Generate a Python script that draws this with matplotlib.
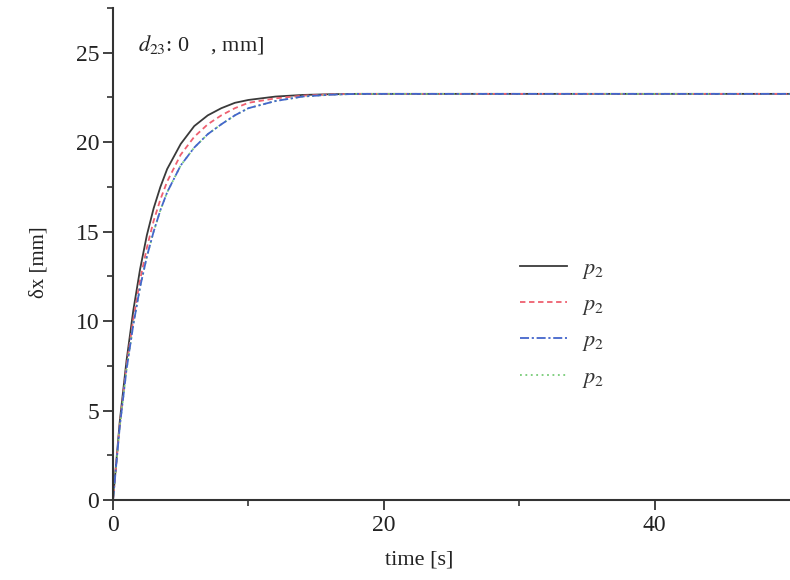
import matplotlib
matplotlib.use("Agg")
import matplotlib.pyplot as plt

# Data
t = [0, 0.5, 1, 1.5, 2, 2.5, 3, 3.5, 4, 5, 6, 7, 8, 9, 10, 12, 14, 16, 18, 20, 25, 30, 40, 50]
dx_black = [0, 4.4, 7.8, 10.6, 12.9, 14.8, 16.3, 17.5, 18.5, 19.9, 20.9, 21.5, 21.9, 22.2, 22.36,
            22.55, 22.64, 22.68, 22.7, 22.7, 22.7, 22.7, 22.7, 22.7]
dx_red = [0, 4.2, 7.5, 10.1, 12.3, 14.1, 15.6, 16.8, 17.8, 19.3, 20.3, 21.0, 21.5, 21.9, 22.2,
          22.45, 22.6, 22.67, 22.7, 22.7, 22.7, 22.7, 22.7, 22.7]
dx_blue = [0, 4.1, 7.3, 9.8, 11.9, 13.6, 15.0, 16.2, 17.2, 18.7, 19.7, 20.45, 21.0, 21.5, 21.9,
           22.3, 22.55, 22.65, 22.7, 22.7, 22.7, 22.7, 22.7, 22.7]
dx_green = [0, 4.1, 7.3, 9.8, 11.9, 13.6, 15.0, 16.2, 17.2, 18.7, 19.7, 20.45, 21.0, 21.5, 21.9,
            22.3, 22.55, 22.65, 22.7, 22.7, 22.7, 22.7, 22.7, 22.7]
labels = [r"$p_2$", r"$p_2$", r"$p_2$", r"$p_2$"]
xticks = [0, 20, 40]
yticks = [0, 5, 10, 15, 20, 25]

plt.rcParams['font.family'] = ['Liberation Serif', 'DejaVu Serif']
plt.rcParams['mathtext.fontset'] = 'stix'

fig = plt.figure(figsize=(7.9, 5.8), dpi=100)
ax = fig.add_axes([113/790, 80/580, 677/790, 492/580])

ax.plot(t, dx_black, color='#3a3a3a', lw=1.3, ls='-', label=labels[0])
ax.plot(t, dx_red, color='#ee6070', lw=1.3, ls=(0, (3, 2)), label=labels[1])
ax.plot(t, dx_green, color='#77cc77', lw=1.3, ls=(0, (1, 2)), label=labels[3])
ax.plot(t, dx_blue, color='#4466cc', lw=1.3, ls=(0, (5, 1.5, 1.2, 1.5)), label=labels[2])

ax.set_xlim(0, 50)
ax.set_ylim(0, 27.5)
ax.set_xticks(xticks)
ax.set_yticks(yticks)
ax.set_xticks([10, 30], minor=True)
ax.set_yticks([2.5, 7.5, 12.5, 17.5, 22.5, 27.5], minor=True)

for s in ['top', 'right']:
    ax.spines[s].set_visible(False)
for s in ['left', 'bottom']:
    ax.spines[s].set_linewidth(1.5)
    ax.spines[s].set_color('#333333')
    ax.spines[s].set_clip_on(False)

ax.tick_params(axis='both', which='major', direction='out', length=7, width=1.3,
               colors='#333333', labelsize=17, labelcolor='#222222')
ax.tick_params(axis='both', which='minor', direction='out', length=4, width=1.2, colors='#333333')
ax.tick_params(axis='x', pad=4)
ax.tick_params(axis='y', pad=3)

ax.set_xlabel("time [s]", fontsize=16, color='#222222')
ax.xaxis.set_label_coords((419 - 113) / 677, -50 / 492)
ax.set_ylabel("δx [mm]", fontsize=15, color='#222222')
ax.yaxis.set_label_coords(-65 / 677, (500 - 262) / 492)

ax.text((138 - 113) / 677, (500 - 45) / 492, r"$d_{23}$: 0    , mm]", transform=ax.transAxes,
        fontsize=16, color='#222222', va='center', ha='left')

handles, labs = ax.get_legend_handles_labels()
order = [0, 1, 3, 2]
leg = ax.legend([handles[i] for i in order], [labs[i] for i in order],
                loc='upper left', bbox_to_anchor=(500/790, 1 - 238/580),
                bbox_transform=fig.transFigure, frameon=False, fontsize=16,
                handlelength=2.1, handletextpad=0.7, labelspacing=0.62)
for txt in leg.get_texts():
    txt.set_color('#333333')

fig.savefig("out.png", dpi=100)
